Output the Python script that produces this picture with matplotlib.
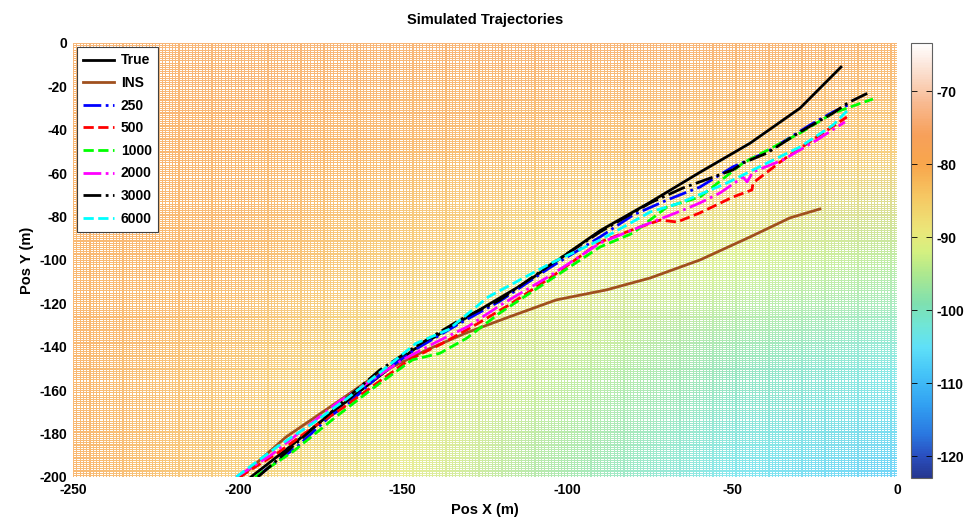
import numpy as np
import matplotlib
matplotlib.use("Agg")
import matplotlib.pyplot as plt
from matplotlib.colors import LinearSegmentedColormap

plt.rcParams['font.family'] = ['Liberation Sans', 'DejaVu Sans']
plt.rcParams['font.weight'] = 'bold'
plt.rcParams['axes.unicode_minus'] = False

# background signal field (dBm), read on a coarse grid
field_x = [-250, -200, -150, -100, -50, 0]
field_y = [0, -50, -100, -150, -200]
field_val = [
    [-78, -78, -78, -78, -78, -79],
    [-79, -80, -81, -82, -83, -84],
    [-80, -81, -84, -88, -92, -95],
    [-80, -83, -88, -94, -99, -103],
    [-80, -84, -90, -97, -104, -108],
]

true_x = [-196, -185, -172, -160, -146.8, -130, -112.3, -100, -90.1, -74.9, -59.8, -44.6, -29.4, -17]
true_y = [-200, -187, -171, -157, -141.5, -126, -110.1, -97, -86.5, -73.4, -59.6, -46.2, -30, -11.1]

ins_x = [-199.1, -185.4, -171.1, -158.0, -142.8, -130.7, -118.5, -103.4, -88.2, -74.9, -59.8, -44.6, -32.5, -23.4]
ins_y = [-200, -181.6, -166.8, -153.0, -141.5, -133.6, -126.7, -118.4, -113.8, -108.3, -100, -89.4, -80.6, -76.5]

p250_x = [-194.5, -182, -172, -166.9, -157, -147, -133, -120.5, -105.3, -90.1, -80.1, -69.8, -63.7, -59.8, -49.8, -39.4, -34.6, -26.4, -19.4, -14.9]
p250_y = [-200, -186, -172, -166.8, -153, -142, -129.5, -119, -103.5, -89.4, -79.3, -72.4, -68.7, -66.4, -57.1, -50.2, -45.6, -37.8, -31.8, -28.6]

p500_x = [-199.5, -188, -178, -168, -158, -148, -138, -128, -118, -105, -90.1, -80.1, -71.9, -66.7, -59.8, -49.8, -44, -43.7, -34.6, -24.3, -15.2]
p500_y = [-200, -189, -178, -168, -157, -146, -138.5, -130, -121, -108, -91.7, -86, -81.6, -82.5, -78.3, -71, -67.7, -64.5, -53.9, -43.3, -34.1]

p1000_x = [-194.8, -183, -170, -158, -147, -138.7, -130.5, -120.5, -105.3, -90.1, -80.1, -69.8, -59.8, -46.7, -29.4, -19.4, -7.3]
p1000_y = [-200, -188, -172, -158, -146, -143, -136, -124.4, -109.2, -94, -87.6, -75.6, -71, -55.3, -41.5, -32.3, -25.8]

p2000_x = [-200.5, -190, -180, -170, -160, -150, -140, -130, -120.5, -105, -90.1, -74.9, -64.9, -59.8, -53.7, -46.7, -45.5, -43.7, -34.6, -24.3, -15.8]
p2000_y = [-200, -190, -178, -166, -156, -146, -138, -130.5, -121, -107, -92.2, -82.9, -77, -73.7, -69.1, -61.8, -64, -59.4, -53.9, -44.7, -36.4]

p3000_x = [-193.9, -181.1, -167.5, -156.9, -146.8, -132.6, -120.5, -105.3, -90.1, -74.9, -64.9, -49.8, -46.7, -39.4, -29.4, -19.4, -14.9, -8.2]
p3000_y = [-200, -182.9, -164.5, -150.7, -140.6, -127.6, -118.4, -102.3, -87.1, -73.7, -66.8, -58.5, -55.3, -50.7, -41.0, -32.3, -27.6, -22.6]

p6000_x = [-200.5, -188, -177, -167, -157, -146, -136, -124, -105, -90.1, -74.9, -65.8, -51.6, -39.4, -29.4, -19.4, -14.9]
p6000_y = [-200, -186, -175, -164, -152, -138.5, -132, -117, -101.5, -90.8, -77.9, -73.7, -64.5, -55.3, -47.9, -37.8, -30.9]

cmap = LinearSegmentedColormap.from_list('sig', [
    (0.00, '#25368f'), (0.05, '#2a4fc0'), (0.10, '#2a78e0'), (0.17, '#32a2f2'),
    (0.24, '#45c4f8'), (0.30, '#5fe0f8'), (0.35, '#70e6d6'), (0.40, '#7ee0b0'),
    (0.47, '#aee88e'), (0.52, '#d4f080'), (0.57, '#ebe679'), (0.65, '#f6c662'),
    (0.72, '#f8a64c'), (0.79, '#f7a05a'), (0.86, '#f8b88e'), (0.93, '#fbdccb'),
    (1.00, '#ffffff')])
vmin, vmax = -123, -63.4

fig = plt.figure(figsize=(9.71, 5.21), dpi=100)
ax = fig.add_axes([0.0752, 0.0845, 0.8486, 0.833])
cax = fig.add_axes([0.938, 0.0825, 0.0216, 0.835])

X, Y = np.meshgrid(field_x, field_y)
mesh = ax.pcolormesh(X, Y, np.array(field_val), cmap=cmap, vmin=vmin, vmax=vmax,
                     shading='gouraud', zorder=0)

# white faces of a 1 m mesh: the coloured field only shows on the grid lines
nx, ny = 250, 200
face = np.zeros((ny * 2, nx * 3, 4))
face[..., :3] = 1.0
rows = (np.arange(ny * 2) % 2 == 1)[:, None]
cols = (np.arange(nx * 3) % 3 != 0)[None, :]
face[..., 3] = np.where(rows & cols, 1.0, 0.22)
ax.imshow(face, extent=[-250, 0, -200, 0], interpolation='nearest',
          aspect='auto', zorder=1)

ax.plot(true_x, true_y, '-', color='black', lw=2, label='True', zorder=3)
ax.plot(ins_x, ins_y, '-', color='#a0501e', lw=2, label='INS', zorder=3)
ax.plot(p250_x, p250_y, '-.', color='#0000ff', lw=2, label='250', zorder=3)
ax.plot(p500_x, p500_y, '--', color='#ff0000', lw=2, label='500', zorder=3)
ax.plot(p1000_x, p1000_y, '--', color='#00ff00', lw=2, label='1000', zorder=3)
ax.plot(p2000_x, p2000_y, '-.', color='#ff00ff', lw=2, label='2000', zorder=3)
ax.plot(p3000_x, p3000_y, '-.', color='black', lw=2, label='3000', zorder=3)
ax.plot(p6000_x, p6000_y, '--', color='#00ffff', lw=2, label='6000', zorder=3)

ax.set_xlim(-250, 0)
ax.set_ylim(-200, 0)
ax.set_xticks(np.arange(-250, 1, 50))
ax.set_yticks(np.arange(-200, 1, 20))
ax.tick_params(labelsize=10, length=0, pad=4)
for s in ax.spines.values():
    s.set_visible(False)
ax.set_xlabel('Pos X (m)', fontsize=10.5, fontweight='bold', labelpad=5)
ax.set_ylabel('Pos Y (m)', fontsize=10.5, fontweight='bold', labelpad=4)
ax.set_title('Simulated Trajectories', fontsize=10.5, fontweight='bold', pad=14)

leg = ax.legend(loc='upper left', fontsize=10, handlelength=2.2, labelspacing=0.62,
                borderaxespad=0.3, fancybox=False, framealpha=1, edgecolor='#404040',
                handletextpad=0.5, borderpad=0.45)
leg.get_frame().set_linewidth(0.8)
for t in leg.get_texts():
    t.set_fontweight('bold')

cb = fig.colorbar(mesh, cax=cax, ticks=[-120, -110, -100, -90, -80, -70])
cb.outline.set_edgecolor('#606060')
cb.outline.set_linewidth(0.8)
cax.tick_params(labelsize=10, direction='in', length=4, left=True, right=True, width=0.6)

fig.savefig('out.png', dpi=100)
